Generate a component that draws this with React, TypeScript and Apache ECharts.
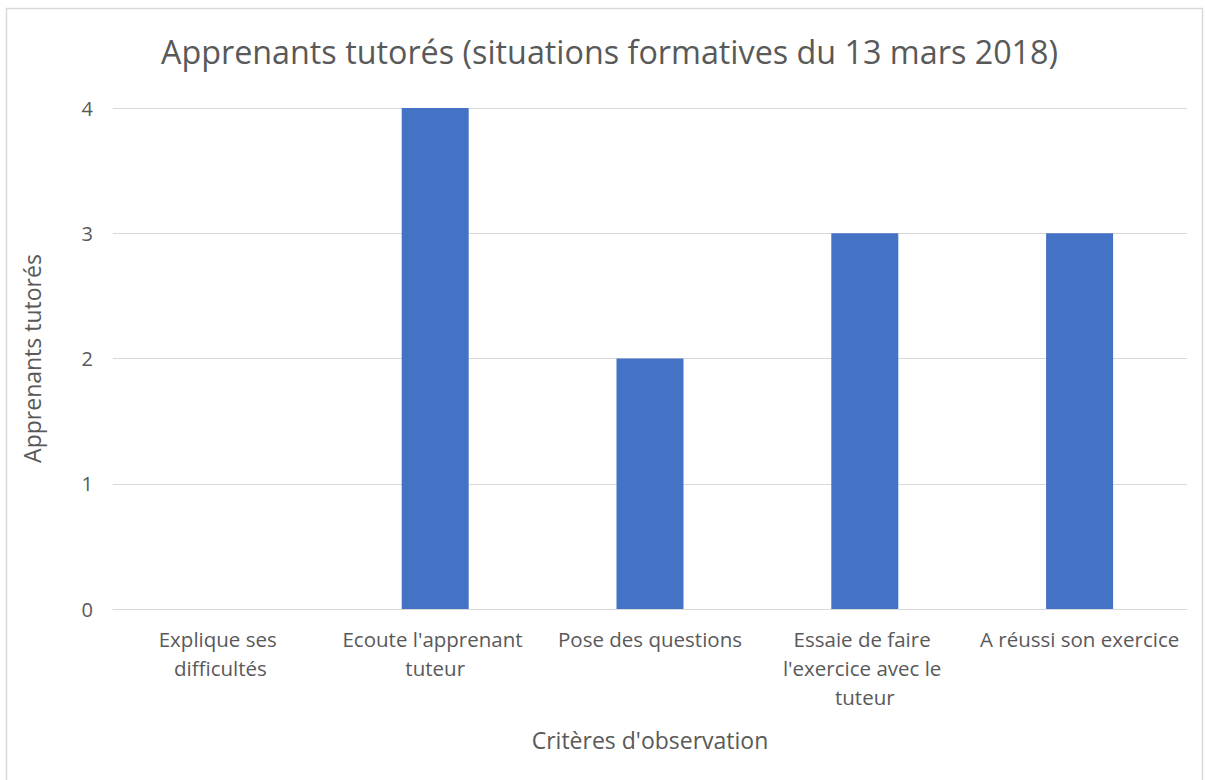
import React, { useEffect, useRef } from "react";
import * as echarts from "echarts";

const title = "Apprenants tutorés (situations formatives du 13 mars 2018)";
const categories = [
  "Explique ses difficultés",
  "Ecoute l'apprenant tuteur",
  "Pose des questions",
  "Essaie de faire l'exercice avec le tuteur",
  "A réussi son exercice",
];
const values = [0, 4, 2, 3, 3];
const yAxisName = "Apprenants tutorés";
const xAxisName = "Critères d'observation";

const FONT = "'Open Sans', 'Noto Sans', sans-serif";
const TEXT = "#595959";

export default function App() {
  const ref = useRef<HTMLDivElement>(null);
  useEffect(() => {
    if (!ref.current) return;
    const chart = echarts.init(ref.current, null, { renderer: "svg" });
    chart.setOption({
      animation: false,
      backgroundColor: "#fff",
      textStyle: { fontFamily: FONT },
      title: {
        text: title,
        left: 156,
        top: 30,
        textStyle: { fontFamily: FONT, fontSize: 32.3, fontWeight: "normal", color: TEXT },
      },
      graphic: [
        {
          type: "rect",
          shape: { x: 6.5, y: 8.5, width: 1196, height: 780 },
          style: { fill: "none", stroke: "#D9D9D9", lineWidth: 1.5 },
          silent: true,
        },
      ],
      grid: { left: 113, right: 18, top: 108, bottom: 171 },
      xAxis: {
        type: "category",
        data: categories,
        name: xAxisName,
        nameLocation: "middle",
        nameGap: 119,
        nameTextStyle: { fontFamily: FONT, fontSize: 23, color: TEXT },
        axisLine: { show: true, lineStyle: { color: "#D9D9D9", width: 1 } },
        axisTick: { show: false },
        axisLabel: {
          interval: 0,
          margin: 15,
          width: 210,
          overflow: "break",
          lineHeight: 29,
          fontFamily: FONT,
          fontSize: 20.5,
          color: TEXT,
        },
      },
      yAxis: {
        type: "value",
        min: 0,
        max: 4,
        interval: 1,
        name: yAxisName,
        nameLocation: "middle",
        nameGap: 70,
        nameTextStyle: { fontFamily: FONT, fontSize: 23, color: TEXT },
        axisLine: { show: false },
        axisTick: { show: false },
        axisLabel: { margin: 20, fontFamily: FONT, fontSize: 20, color: TEXT },
        splitLine: { lineStyle: { color: "#D9D9D9", width: 1 } },
      },
      series: [
        {
          type: "bar",
          data: values,
          barWidth: 67,
          itemStyle: { color: "#4472C4" },
        },
      ],
    });
    return () => chart.dispose();
  }, []);
  return (
    <div
      ref={ref}
      style={{ position: "absolute", left: 0, top: 0, width: 1205, height: 780 }}
    />
  );
}
